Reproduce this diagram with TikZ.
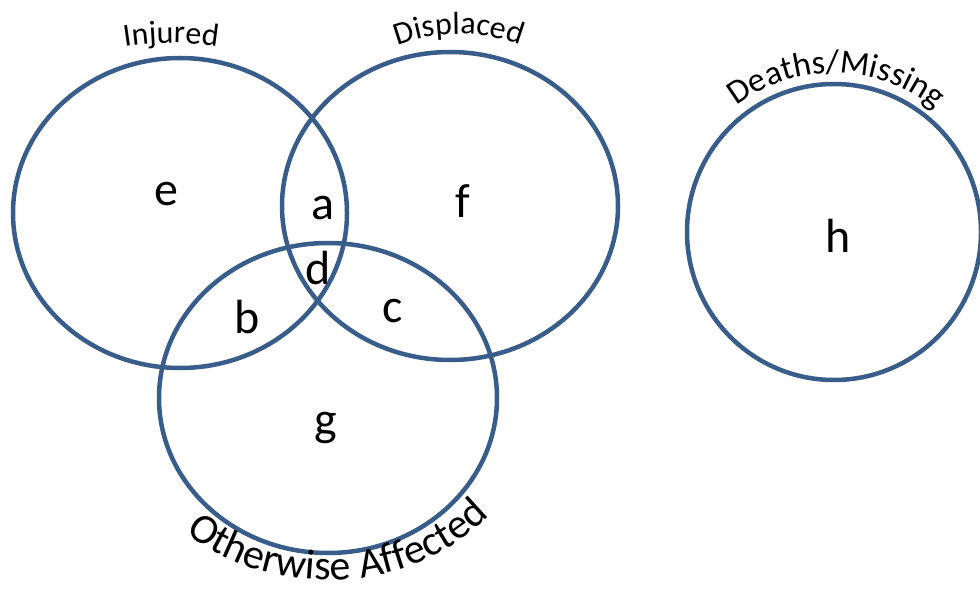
\documentclass[tikz,border=0pt]{standalone}
\usepackage{fontspec}
\setmainfont{Carlito}
\usetikzlibrary{shapes.geometric,decorations.text}
\definecolor{vennblue}{HTML}{385D8A}
\newcommand\setlabelsize{\fontsize{32}{38}\selectfont}
\newcommand\setdeathsize{\fontsize{34}{40}\selectfont}
\newcommand\setaffectedsize{\fontsize{42}{50}\selectfont}
\begin{document}
\begin{tikzpicture}[x=1pt,y=1pt,
  venn/.style={ellipse, draw=vennblue, line width=4.5pt, inner sep=0pt},
  region/.style={font=\fontsize{48}{56}\selectfont, inner sep=0pt},
  curvedlabel/.style={decorate, decoration={text along path, text align=center, text={#1}}}]
\useasboundingbox (0,0) rectangle (980,590);

% the four sets
\node[venn, minimum width=334, minimum height=310] (injured)   at (180,377) {};
\node[venn, minimum width=336, minimum height=308] (displaced) at (450,384) {};
\node[venn, minimum width=338, minimum height=310] (affected)  at (328,192) {};
\node[venn, minimum width=294, minimum height=296] (deaths)    at (834,358) {};

% region letters
\node[region] (e) at (166,396) {e};
\node[region] (f) at (463,389) {f};
\node[region] (a) at (323,382) {a};
\node[region] (d) at (318,322) {d};
\node[region] (b) at (247,273) {b};
\node[region] (c) at (393,279) {c};
\node[region] (g) at (326,162) {g};
\node[region] (h) at (838,354) {h};

% set names set along arcs
\coordinate (injuredarc) at (171,247);
\coordinate (displacedarc) at (459,386);
\path[curvedlabel={|\setlabelsize|Injured}]
  ([shift={(105:300)}]injuredarc) arc[start angle=105, end angle=75, radius=300];
\path[curvedlabel={|\setlabelsize|Displaced}]
  ([shift={(140:170)}]displacedarc) arc[start angle=140, end angle=40, radius=170];
\path[curvedlabel={|\setdeathsize|Deaths/Missing}]
  ([shift={(169:159)}]deaths.center) arc[start angle=169, end angle=9, radius=159];
\path[curvedlabel={|\setaffectedsize|Otherwise Affected}]
  ([shift={(200:212 and 182)}]affected.center) arc[start angle=200, end angle=348, x radius=212, y radius=182];
\end{tikzpicture}
\end{document}
